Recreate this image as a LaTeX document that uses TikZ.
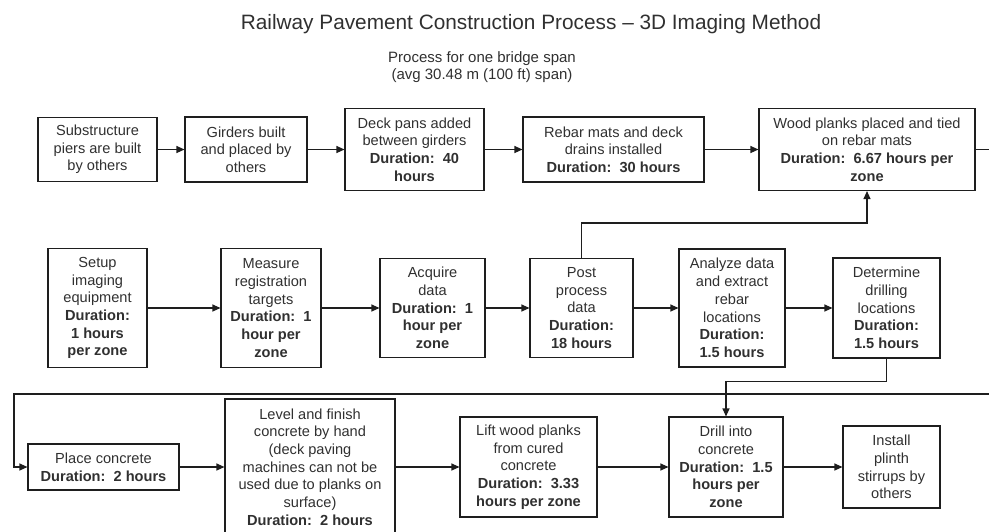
\documentclass[tikz,border=0pt]{standalone}
\usepackage{fontspec}
\setmainfont{Liberation Sans}
\usetikzlibrary{arrows.meta}
\definecolor{ink}{HTML}{1E1E1E}
\definecolor{txt}{HTML}{303030}
\tikzset{
  box/.style={draw=ink, line width=1.1pt, align=center, inner sep=0pt,
    text=txt, font=\fontsize{14.6}{17.7}\selectfont},
  flow/.style={draw=ink, line width=1.1pt, -{Triangle[length=8pt,width=7pt]}},
  wire/.style={draw=ink, line width=1.1pt},
}
\begin{document}
\begin{tikzpicture}[x=1pt,y=-1pt]
\useasboundingbox (0,0) rectangle (989,531);

% headings
\node[anchor=base, text=txt, font=\fontsize{20.8}{23}\selectfont] (title) at (531,29)
  {Railway Pavement Construction Process -- 3D Imaging Method};
\node[anchor=base, text=txt, font=\fontsize{15}{17}\selectfont] (sub1) at (482,62)
  {Process for one bridge span};
\node[anchor=base, text=txt, font=\fontsize{15}{17}\selectfont] (sub2) at (482,79)
  {(avg 30.48 m (100 ft) span)};

% row 1: bridge span preparation
\node[box, minimum width=119pt, minimum height=64pt] (A) at (97.5,149.5)
  {Substructure\\piers are built\\by others};
\node[box, minimum width=122pt, minimum height=65pt] (B) at (246,149.5)
  {Girders built\\and placed by\\others};
\node[box, minimum width=139pt, minimum height=82pt] (C) at (414.5,149.5)
  {Deck pans added\\between girders\\\textbf{Duration:\ \ 40}\\\textbf{hours}};
\node[box, minimum width=181pt, minimum height=65pt] (D) at (613.5,149.5)
  {Rebar mats and deck\\drains installed\\\textbf{Duration:\ \ 30 hours}};
\node[box, minimum width=216pt, minimum height=82pt] (E) at (867,149.5)
  {Wood planks placed and tied\\on rebar mats\\\textbf{Duration:\ \ 6.67 hours per}\\\textbf{zone}};

% row 2: imaging
\node[box, minimum width=99pt, minimum height=119pt] (F) at (97.5,308)
  {Setup\\imaging\\equipment\\\textbf{Duration:}\\\textbf{1 hours}\\\textbf{per zone}};
\node[box, minimum width=100pt, minimum height=119pt] (G) at (271,308)
  {Measure\\registration\\targets\\\textbf{Duration:\ \ 1}\\\textbf{hour per}\\\textbf{zone}};
\node[box, minimum width=105pt, minimum height=99pt] (H) at (432.5,308)
  {Acquire\\data\\\textbf{Duration:\ \ 1}\\\textbf{hour per}\\\textbf{zone}};
\node[box, minimum width=103pt, minimum height=99pt] (I) at (581.5,308)
  {Post\\process\\data\\\textbf{Duration:}\\\textbf{18 hours}};
\node[box, minimum width=106pt, minimum height=118pt] (J) at (732,308)
  {Analyze data\\and extract\\rebar\\locations\\\textbf{Duration:}\\\textbf{1.5 hours}};
\node[box, minimum width=107pt, minimum height=100pt] (K) at (886.5,308)
  {Determine\\drilling\\locations\\\textbf{Duration:}\\\textbf{1.5 hours}};

% row 3: concrete work
\node[box, minimum width=151pt, minimum height=46pt] (L) at (103.5,467)
  {Place concrete\\\textbf{Duration:\ \ 2 hours}};
\node[box, minimum width=170pt, minimum height=136pt] (M) at (310,467)
  {Level and finish\\concrete by hand\\(deck paving\\machines can not be\\used due to planks on\\surface)\\\textbf{Duration:\ \ 2 hours}};
\node[box, minimum width=137pt, minimum height=100pt] (N) at (528.5,467)
  {Lift wood planks\\from cured\\concrete\\\textbf{Duration:\ \ 3.33}\\\textbf{hours per zone}};
\node[box, minimum width=114pt, minimum height=100pt] (O) at (726,467)
  {Drill into\\concrete\\\textbf{Duration:\ \ 1.5}\\\textbf{hours per}\\\textbf{zone}};
\node[box, minimum width=97pt, minimum height=82pt] (P) at (891.5,467)
  {Install\\plinth\\stirrups by\\others};

% connectors
\draw[flow] (A) -- (B);
\draw[flow] (B) -- (C);
\draw[flow] (C) -- (D);
\draw[flow] (D) -- (E);
\coordinate (outE) at (992,149.5);
\draw[wire] (E.east) -- (outE);

\draw[flow] (F) -- (G);
\draw[flow] (G) -- (H);
\draw[flow] (H) -- (I);
\draw[flow] (I) -- (J);
\draw[flow] (J) -- (K);
\draw[flow] (I.north) -- ++(0,-35) -| (E.south);

\coordinate (inL) at (992,394);
\coordinate (turnL) at (14,394);
\draw[flow] (inL) -- (turnL) |- (L.west);
\draw[flow] (K.south) -- ++(0,23) -| (O.north);

\draw[flow] (L) -- (M);
\draw[flow] (M) -- (N);
\draw[flow] (N) -- (O);
\draw[flow] (O) -- (P);
\end{tikzpicture}
\end{document}
